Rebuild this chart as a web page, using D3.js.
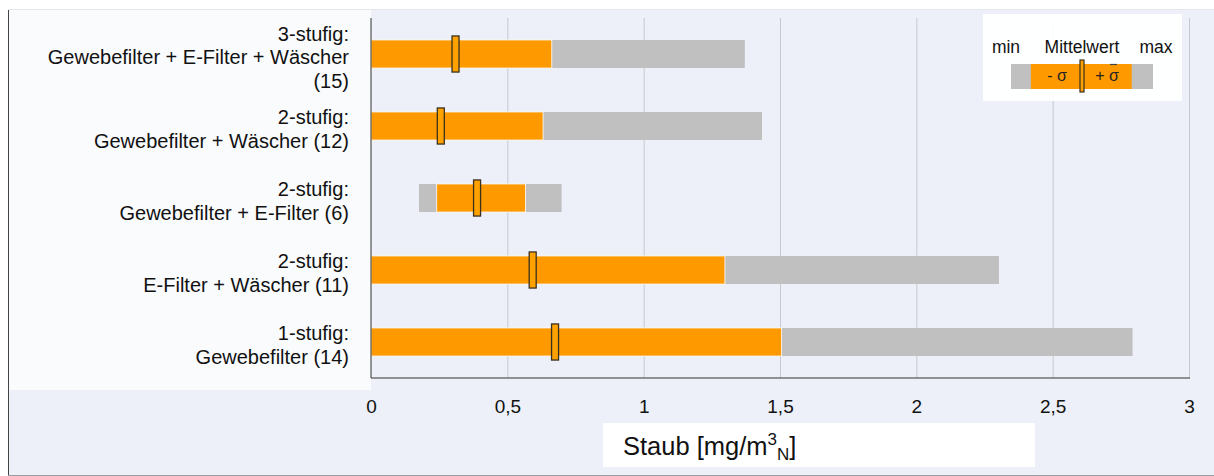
<!DOCTYPE html>
<html>
<head>
  <meta charset="utf-8">
  <title>Staub</title>
  <style>
    body { margin: 0; background: #fff; }
    svg { display: block; font-family: "Liberation Sans", Arial, sans-serif; }
  </style>
</head>
<body>
  <svg id="chart"></svg>
  <script src="https://cdnjs.cloudflare.com/ajax/libs/d3/7.8.5/d3.min.js"></script>
  <script>
    // categories (top to bottom), each split into lines
    const categories = [
      ["3-stufig:", "Gewebefilter + E-Filter + Wäscher", "(15)"],
      ["2-stufig:", "Gewebefilter + Wäscher (12)"],
      ["2-stufig:", "Gewebefilter + E-Filter (6)"],
      ["2-stufig:", "E-Filter + Wäscher (11)"],
      ["1-stufig:", "Gewebefilter (14)"]
    ];
    // values in mg/m3N
    const minVals  = [0,     0,     0.176, 0,     0];
    const lowVals  = [0,     0,     0.241, 0,     0];      // Mittelwert - sigma
    const meanVals = [0.31,  0.256, 0.389, 0.593, 0.675];
    const highVals = [0.663, 0.631, 0.567, 1.298, 1.506];  // Mittelwert + sigma
    const maxVals  = [1.371, 1.434, 0.699, 2.303, 2.793];
    const xTicks = [0, 0.5, 1, 1.5, 2, 2.5, 3];
    const legendLabels = ["min", "Mittelwert", "max"];

    const W = 1214, H = 476;
    const plot = { left: 371, right: 1189, top: 18, bottom: 378 };

    const svg = d3.select("#chart").attr("width", W).attr("height", H);

    /** background panels */
    svg.append("rect").attr("x", 8).attr("y", 9).attr("width", W - 8).attr("height", H - 9)
      .attr("fill", "#edf0f8");
    svg.append("rect").attr("x", 9).attr("y", 10).attr("width", plot.left - 9).attr("height", 380)
      .attr("fill", "#fafbfd");
    svg.append("line").attr("x1", 8.5).attr("x2", 8.5).attr("y1", 9).attr("y2", H)
      .attr("stroke", "#444");
    svg.append("line").attr("x1", 8).attr("x2", W).attr("y1", 9.5).attr("y2", 9.5)
      .attr("stroke", "#e4e6ec");
    svg.append("line").attr("x1", 8).attr("x2", W).attr("y1", 475.5).attr("y2", 475.5)
      .attr("stroke", "#9a9ca4");

    const x = d3.scaleLinear().domain([0, 3]).range([plot.left, plot.right]);
    const y = d3.scaleBand().domain(d3.range(categories.length))
      .range([plot.top, plot.bottom]).paddingInner(0.61).paddingOuter(0.305);

    /** grid */
    svg.append("g")
      .attr("transform", `translate(0,${plot.bottom})`)
      .call(d3.axisBottom(x).tickValues(xTicks.slice(1)).tickSize(-(plot.bottom - plot.top)).tickFormat(""))
      .call(g => g.select(".domain").remove())
      .call(g => g.selectAll("line").attr("stroke", "#c6c9d1"));

    /** rows */
    const rows = svg.append("g").selectAll("g")
      .data(categories.map((c, i) => i))
      .join("g");

    rows.append("rect")
      .attr("x", i => x(minVals[i]))
      .attr("y", i => y(i))
      .attr("width", i => x(maxVals[i]) - x(minVals[i]))
      .attr("height", y.bandwidth())
      .attr("fill", "#c0c0c0");

    rows.append("rect")
      .attr("x", i => x(lowVals[i]))
      .attr("y", i => y(i))
      .attr("width", i => x(highVals[i]) - x(lowVals[i]))
      .attr("height", y.bandwidth())
      .attr("fill", "#ff9900")
      .attr("stroke", "#fff")
      .attr("stroke-width", 0.8);

    rows.append("rect")
      .attr("x", i => x(meanVals[i]) - 3.5)
      .attr("y", i => y(i) - 4)
      .attr("width", 7)
      .attr("height", y.bandwidth() + 8)
      .attr("fill", "#ffa200")
      .attr("stroke", "#3a3020")
      .attr("stroke-width", 1.3);

    /** category labels */
    const lineH = 23.5;
    rows.append("text")
      .attr("text-anchor", "end")
      .attr("font-size", 20)
      .attr("fill", "#111")
      .each(function (i) {
        const lines = categories[i];
        const cy = y(i) + y.bandwidth() / 2 + 3;
        const y0 = cy - (lines.length - 1) * lineH / 2;
        d3.select(this).selectAll("tspan").data(lines).join("tspan")
          .attr("x", 349)
          .attr("y", (d, k) => y0 + k * lineH)
          .attr("dy", "0.36em")
          .text(d => d);
      });

    /** axis lines */
    svg.append("line").attr("x1", plot.left).attr("x2", plot.left).attr("y1", plot.top).attr("y2", plot.bottom)
      .attr("stroke", "#333");
    svg.append("line").attr("x1", plot.left).attr("x2", plot.right + 1).attr("y1", plot.bottom).attr("y2", plot.bottom)
      .attr("stroke", "#333");

    /** x axis labels */
    svg.append("g")
      .attr("transform", `translate(0,${plot.bottom})`)
      .call(d3.axisBottom(x).tickValues(xTicks).tickSize(0)
        .tickFormat(d => String(d).replace(".", ",")))
      .call(g => g.select(".domain").remove())
      .call(g => g.selectAll("text")
        .attr("y", 35).attr("dy", 0)
        .attr("font-size", 19)
        .attr("font-family", "Liberation Sans, Arial, sans-serif")
        .attr("fill", "#111"));

    /** axis title */
    svg.append("rect").attr("x", 603).attr("y", 423).attr("width", 432).attr("height", 44)
      .attr("fill", "#fff");
    const title = svg.append("text").attr("x", 623).attr("y", 455)
      .attr("font-size", 25.5).attr("fill", "#111");
    title.append("tspan").text("Staub [mg/m");
    title.append("tspan").attr("font-size", 17).attr("dy", -10).text("3");
    title.append("tspan").attr("font-size", 17).attr("dy", 15).text("N");
    title.append("tspan").attr("dy", -5).text("]");

    /** legend */
    const lg = svg.append("g");
    lg.append("rect").attr("x", 983).attr("y", 14).attr("width", 199).attr("height", 87)
      .attr("fill", "#fff").attr("opacity", 0.95);
    const lx = d3.scaleLinear().domain([0, 1]).range([1011, 1153]);
    lg.append("rect").attr("x", lx(0)).attr("y", 64).attr("width", lx(1) - lx(0)).attr("height", 25)
      .attr("fill", "#c0c0c0");
    lg.append("rect").attr("x", lx(0.14)).attr("y", 64).attr("width", lx(0.85) - lx(0.14)).attr("height", 25)
      .attr("fill", "#ff9900");
    lg.append("rect").attr("x", lx(0.5) - 2).attr("y", 60).attr("width", 4).attr("height", 32)
      .attr("fill", "#ffa200").attr("stroke", "#3a3020").attr("stroke-width", 1.2);
    lg.selectAll("text.lbl").data(legendLabels).join("text")
      .attr("class", "lbl")
      .attr("x", (d, k) => [1006, 1082, 1156][k])
      .attr("y", 53)
      .attr("text-anchor", "middle")
      .attr("font-size", 17.5)
      .attr("fill", "#111")
      .text(d => d);
    lg.append("text").attr("x", 1057).attr("y", 81).attr("text-anchor", "middle")
      .attr("font-size", 16).attr("fill", "#222").text("- σ");
    lg.append("text").attr("x", 1107).attr("y", 81).attr("text-anchor", "middle")
      .attr("font-size", 16).attr("fill", "#222").text("+ σ");
    lg.append("line").attr("x1", 1110).attr("x2", 1117).attr("y1", 64.5).attr("y2", 64.5)
      .attr("stroke", "#444").attr("stroke-width", 1.2);
  </script>
</body>
</html>
